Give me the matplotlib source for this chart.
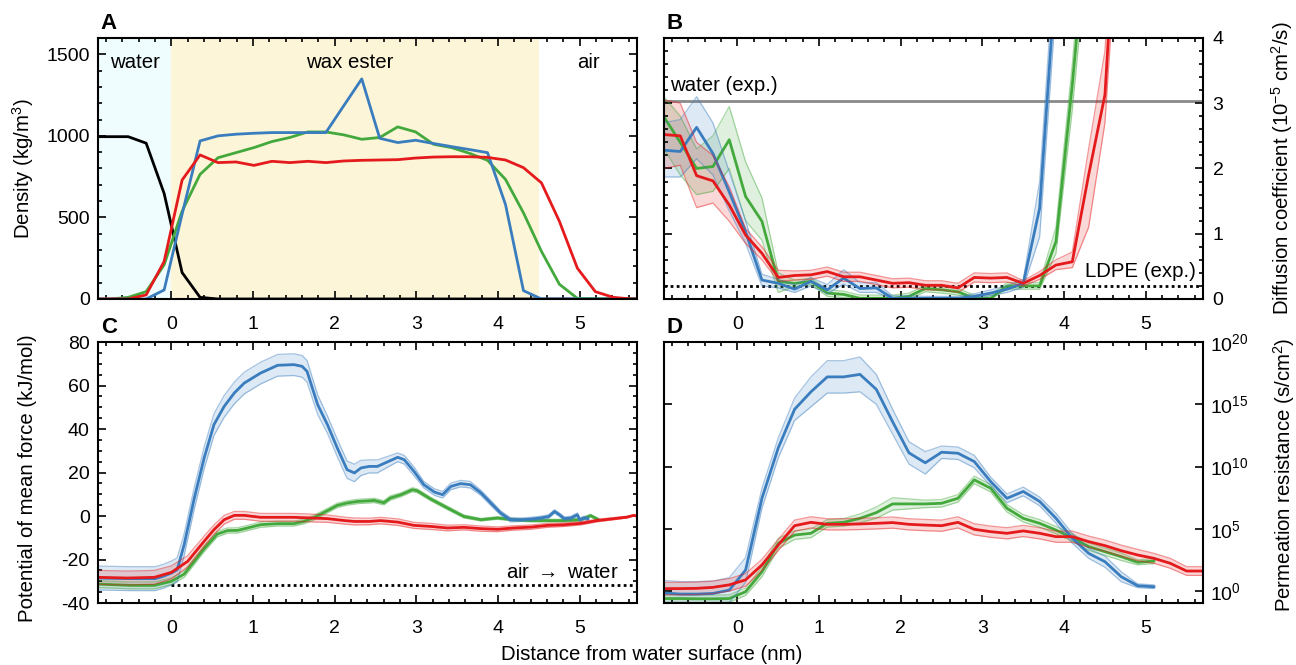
import numpy as np
import matplotlib
matplotlib.use("Agg")
import matplotlib.pyplot as plt
from matplotlib.ticker import MultipleLocator, FixedLocator, NullLocator, FuncFormatter

plt.rcParams["font.family"] = ["Liberation Sans", "DejaVu Sans"]
plt.rcParams["mathtext.fontset"] = "custom"
plt.rcParams["mathtext.rm"] = "Liberation Sans"
plt.rcParams["mathtext.it"] = "Liberation Sans:italic"
plt.rcParams["axes.unicode_minus"] = False

# ---------------------------------------------------------------- data
# panel A : density profiles (kg/m3)
xa = [-0.97, -0.75, -0.53, -0.31, -0.09, 0.13, 0.35, 0.57, 0.79, 1.01, 1.23, 1.45, 1.67, 1.89, 2.11, 2.33,
      2.55, 2.77, 2.99, 3.21, 3.43, 3.65, 3.87, 4.09, 4.31, 4.53, 4.75, 4.97, 5.19, 5.41, 5.63, 5.85]
dens_water = [995, 995, 995, 955, 647, 162, 10, 0, 0, 0, 0, 0, 0, 0, 0, 0,
              0, 0, 0, 0, 0, 0, 0, 0, 0, 0, 0, 0, 0, 0, 0, 0]
dens_red = [0, 0, 0, 25, 230, 729, 883, 836, 840, 819, 844, 836, 844, 836, 846, 850,
            852, 854, 864, 870, 872, 872, 868, 852, 805, 712, 476, 189, 45, 10, 0, 0]
dens_blue = [0, 0, 0, 0, 55, 520, 969, 1000, 1010, 1016, 1020, 1020, 1020, 1020, 1185, 1349,
             985, 959, 973, 953, 934, 916, 897, 579, 51, 0, 0, 0, 0, 0, 0, 0]
dens_green = [0, 0, 10, 45, 209, 538, 764, 866, 897, 928, 965, 990, 1024, 1024, 1006, 979,
              990, 1055, 1024, 948, 928, 893, 850, 733, 528, 292, 90, 4, 0, 0, 0, 0]

# panel B : diffusion coefficient (1e-5 cm2/s), grid of 0.2 nm
xg = [-0.9, -0.7, -0.5, -0.3, -0.1, 0.1, 0.3, 0.5, 0.7, 0.9, 1.1, 1.3, 1.5, 1.7, 1.9, 2.1, 2.3,
      2.5, 2.7, 2.9, 3.1, 3.3, 3.5, 3.7, 3.9, 4.1, 4.3, 4.5, 4.7, 4.9, 5.1, 5.3, 5.5, 5.7]
diff_red = [2.52, 2.50, 1.89, 1.81, 1.44, 0.98, 0.70, 0.33, 0.36, 0.37, 0.42, 0.34, 0.34, 0.29, 0.24,
            0.25, 0.21, 0.21, 0.17, 0.33, 0.32, 0.33, 0.24, 0.36, 0.52, 0.57, 1.90, 3.13, 7.3]
diff_red_lo = [2.00, 2.05, 1.40, 1.47, 1.19, 0.85, 0.60, 0.27, 0.29, 0.30, 0.35, 0.27, 0.27, 0.22, 0.17,
               0.18, 0.14, 0.14, 0.10, 0.26, 0.25, 0.26, 0.20, 0.30, 0.45, 0.48, 1.10, 2.70, 6.5]
diff_red_hi = [3.05, 3.00, 2.40, 2.20, 1.72, 1.08, 0.80, 0.44, 0.43, 0.44, 0.49, 0.41, 0.41, 0.36, 0.31,
               0.32, 0.28, 0.28, 0.24, 0.40, 0.39, 0.40, 0.28, 0.42, 0.60, 0.72, 2.30, 3.80, 8.0]
diff_blue = [2.28, 2.26, 2.63, 2.23, 1.64, 1.03, 0.29, 0.24, 0.15, 0.27, 0.14, 0.32, 0.16, 0.17, 0.01,
             0.01, 0.01, 0.01, 0.01, 0.04, 0.09, 0.15, 0.24, 1.39, 5.0]
diff_blue_lo = [1.87, 1.87, 2.15, 1.90, 1.35, 0.85, 0.20, 0.17, 0.10, 0.20, 0.08, 0.23, 0.10, 0.10, 0.0,
                0.0, 0.0, 0.0, 0.0, 0.01, 0.05, 0.10, 0.18, 0.95, 4.5]
diff_blue_hi = [2.70, 2.75, 3.10, 2.70, 1.95, 1.20, 0.38, 0.30, 0.22, 0.33, 0.22, 0.45, 0.25, 0.25, 0.05,
                0.05, 0.04, 0.04, 0.04, 0.08, 0.14, 0.20, 0.30, 1.80, 5.5]
diff_green = [2.79, 2.40, 2.00, 2.03, 2.44, 1.57, 1.19, 0.27, 0.24, 0.27, 0.09, 0.07, 0.01, 0.01, 0.01,
              0.04, 0.16, 0.14, 0.11, 0.01, 0.01, 0.20, 0.20, 0.20, 0.88, 3.28, 6.0]
diff_green_lo = [2.30, 1.90, 1.60, 1.65, 2.00, 1.20, 0.90, 0.10, 0.19, 0.22, 0.04, 0.02, 0.0, 0.0, 0.0,
                 0.0, 0.11, 0.09, 0.06, 0.0, 0.0, 0.15, 0.15, 0.15, 0.70, 2.90, 5.5]
diff_green_hi = [3.10, 2.80, 2.30, 2.50, 2.95, 2.10, 1.55, 0.40, 0.29, 0.32, 0.14, 0.12, 0.06, 0.06, 0.06,
                 0.09, 0.21, 0.19, 0.16, 0.06, 0.06, 0.25, 0.25, 0.25, 1.10, 3.60, 6.5]
d_water_exp = 3.03
d_ldpe_exp = 0.2

# panel C : potential of mean force (kJ/mol)
pmf_blue_x = [-0.9, -0.5, -0.2, -0.1, 0.0, 0.07, 0.155, 0.28, 0.40, 0.52, 0.645, 0.77, 0.89, 1.09, 1.30,
              1.50, 1.60, 1.66, 1.79, 1.91, 2.03, 2.15, 2.24, 2.32, 2.42, 2.52, 2.64, 2.77, 2.85, 2.97,
              3.09, 3.22, 3.32, 3.42, 3.54, 3.66, 3.79, 3.91, 4.03, 4.15, 4.28, 4.40, 4.52, 4.62, 4.69,
              4.75, 4.81, 4.89, 4.97, 5.00, 5.05, 5.10]
pmf_blue = [-28.5, -28.8, -28.8, -27.7, -26.2, -24.7, -13.2, 8.3, 26.7, 42.0, 50.4, 56.6, 61.1, 65.7, 69.3,
            69.6, 68.8, 66.5, 51.2, 42.0, 31.3, 21.3, 19.8, 22.1, 22.8, 22.8, 24.8, 27.0, 25.9, 20.5,
            14.4, 11.0, 9.8, 13.6, 14.9, 14.4, 10.6, 6.0, 1.4, -1.7, -1.7, -1.4, -0.9, -0.2, 2.1,
            0.6, -1.2, -0.9, 0.6, -1.7, -0.9, -1.2]
pmf_blue_err = [5.5, 5.5, 5.5, 5.5, 5.5, 5.5, 5.0, 5.0, 5.0, 5.0, 5.0, 5.0, 5.0, 5.0, 5.0,
                5.0, 5.0, 5.0, 4.5, 4.0, 4.0, 4.0, 4.0, 3.5, 3.0, 3.0, 2.5, 2.0, 2.0, 2.0,
                1.5, 1.5, 1.5, 1.5, 1.5, 1.5, 1.2, 1.2, 1.0, 1.0, 0.8, 0.8, 0.8, 0.8, 0.8,
                0.8, 0.8, 0.8, 0.8, 0.8, 0.8, 0.8]
pmf_red_x = [-0.9, -0.54, -0.21, 0.0, 0.2, 0.4, 0.52, 0.645, 0.77, 0.89, 1.09, 1.30, 1.50, 1.71, 1.91,
             2.12, 2.24, 2.42, 2.56, 2.77, 2.97, 3.18, 3.38, 3.58, 3.79, 3.99, 4.19, 4.40, 4.60, 4.81,
             5.01, 5.21, 5.42, 5.58, 5.66, 5.70]
pmf_red = [-28.2, -28.5, -28.2, -25.9, -20.8, -11.6, -6.3, -1.7, 0.3, 0.3, -0.6, -0.6, -0.6, -0.9, -1.2,
           -2.1, -2.5, -2.5, -2.1, -2.8, -4.3, -4.8, -5.5, -5.2, -5.8, -6.1, -5.5, -5.1, -4.3, -4.0,
           -3.4, -2.1, -1.2, -0.5, 0.3, 0.0]
pmf_red_err = [3.2, 3.2, 3.2, 3.0, 2.6, 2.4, 2.2, 2.0, 1.8, 1.8, 1.8, 1.8, 1.8, 1.8, 1.7,
               1.6, 1.6, 1.5, 1.5, 1.5, 1.4, 1.4, 1.3, 1.2, 1.2, 1.1, 1.0, 1.0, 0.9, 0.8,
               0.7, 0.6, 0.5, 0.4, 0.2, 0.0]
pmf_green_x = [-0.9, -0.5, -0.21, 0.0, 0.155, 0.28, 0.40, 0.56, 0.685, 0.81, 0.93, 1.09, 1.30, 1.50, 1.62,
               1.75, 1.91, 2.03, 2.15, 2.28, 2.42, 2.48, 2.60, 2.68, 2.81, 2.95, 3.01, 3.17, 3.38, 3.58,
               3.79, 3.99, 4.19, 4.40, 4.60, 4.81, 5.01, 5.13, 5.23]
pmf_green = [-31.3, -31.9, -31.9, -30.0, -26.7, -20.8, -15.0, -8.3, -6.7, -6.6, -5.5, -4.0, -3.5, -3.5, -2.5,
             -0.6, 2.5, 4.9, 6.0, 6.7, 7.0, 7.2, 6.1, 8.3, 9.8, 12.1, 11.6, 7.9, 3.7, -0.2,
             -1.7, -0.9, -1.7, -2.1, -2.1, -2.1, -1.7, 0.2, -1.7]
pmf_green_err = [1.6, 1.6, 1.6, 1.5, 1.5, 1.4, 1.4, 1.3, 1.2, 1.2, 1.2, 1.2, 1.1, 1.1, 1.1,
                 1.1, 1.0, 1.0, 1.0, 1.0, 1.0, 1.0, 1.0, 1.0, 0.9, 0.9, 0.9, 0.8, 0.8, 0.7,
                 0.6, 0.6, 0.6, 0.6, 0.6, 0.6, 0.6, 0.6, 0.6]
pmf_air_water = -31.5

# panel D : permeation resistance, log10(s/cm2), grid of 0.2 nm
res_red = [0.2, 0.2, 0.22, 0.3, 0.5, 0.9, 2.1, 3.7, 5.25, 5.52, 5.36, 5.36, 5.39, 5.44, 5.5, 5.36, 5.3,
           5.25, 5.52, 4.96, 4.77, 4.64, 4.83, 4.64, 4.37, 4.37, 3.97, 3.65, 3.24, 2.9, 2.63, 2.23, 1.61, 1.61]
res_red_err = [0.5, 0.5, 0.5, 0.5, 0.5, 0.5, 0.45, 0.45, 0.45, 0.45, 0.45, 0.45, 0.45, 0.45, 0.45, 0.45, 0.45,
               0.45, 0.45, 0.45, 0.45, 0.45, 0.45, 0.45, 0.45, 0.45, 0.45, 0.45, 0.45, 0.45, 0.4, 0.4, 0.35, 0.35]
res_blue = [-0.15, -0.24, -0.24, -0.19, 0.08, 1.69, 7.45, 11.5, 14.6, 16.0, 17.2, 17.2, 17.4, 16.2, 13.6,
            11.1, 10.3, 11.15, 11.07, 10.4, 8.8, 7.45, 8.0, 7.2, 5.85, 4.24, 3.03, 2.36, 1.15, 0.43, 0.35]
res_blue_err = [1.0, 1.0, 1.0, 1.0, 1.0, 1.0, 0.8, 0.8, 0.9, 1.2, 1.3, 1.3, 1.4, 1.2, 1.0,
                0.9, 0.9, 0.5, 0.5, 0.5, 0.35, 0.35, 0.35, 0.35, 0.4, 0.4, 0.4, 0.45, 0.4, 0.15, 0.15]
res_green = [-0.6, -0.6, -0.62, -0.62, -0.6, -0.05, 1.55, 3.83, 4.5, 4.64, 5.44, 5.52, 5.84, 6.3, 7.0,
             7.0, 7.0, 7.05, 7.45, 8.93, 8.26, 6.65, 5.84, 5.44, 4.9, 4.29, 3.57, 3.16, 2.76, 2.31, 2.41]
res_green_err = [0.3, 0.3, 0.3, 0.3, 0.3, 0.3, 0.4, 0.4, 0.35, 0.35, 0.3, 0.3, 0.35, 0.45, 0.5,
                 0.4, 0.3, 0.3, 0.3, 0.3, 0.3, 0.3, 0.3, 0.3, 0.3, 0.3, 0.3, 0.3, 0.3, 0.2, 0.2]

# ---------------------------------------------------------------- styling
RED, BLUE, GREEN = "#e41a1c", "#3a7dbf", "#43a93c"
FS = 14
FSL = 14.7
XLIM = (-0.9, 5.7)


def band(ax, x, lo, hi, col):
    ax.fill_between(x, lo, hi, color=col, alpha=0.17, lw=0)
    ax.plot(x, lo, color=col, lw=0.9, alpha=0.45)
    ax.plot(x, hi, color=col, lw=0.9, alpha=0.45)


def style(ax, right_labels=False):
    ax.set_xlim(XLIM)
    ax.xaxis.set_major_locator(FixedLocator([0, 1, 2, 3, 4, 5]))
    ax.xaxis.set_minor_locator(MultipleLocator(0.2))
    ax.tick_params(which="both", direction="in", top=True, bottom=True, left=True, right=True,
                   width=1.2, labelsize=FS)
    ax.tick_params(which="major", length=6)
    ax.tick_params(which="minor", length=3)
    ax.tick_params(axis="x", pad=12)
    if right_labels:
        ax.tick_params(axis="y", labelleft=False, labelright=True, pad=7)
    else:
        ax.tick_params(axis="y", pad=6)
    for s in ax.spines.values():
        s.set_linewidth(1.5)


fig = plt.figure(figsize=(12.96, 6.65), dpi=100)
axA = fig.add_axes([0.0756, 0.5504, 0.4159, 0.3925])
axB = fig.add_axes([0.5123, 0.5504, 0.4159, 0.3925])
axC = fig.add_axes([0.0756, 0.0932, 0.4159, 0.3925])
axD = fig.add_axes([0.5123, 0.0932, 0.4159, 0.3925])

# ---- A
axA.axvspan(XLIM[0], 0, color="#effdfe", lw=0, zorder=0)
axA.axvspan(0, 4.5, color="#fdf5d8", lw=0, zorder=0)
axA.plot(xa, dens_water, color="black", lw=2)
axA.plot(xa, dens_green, color=GREEN, lw=2)
axA.plot(xa, dens_blue, color=BLUE, lw=2)
axA.plot(xa, dens_red, color=RED, lw=2)
axA.set_ylim(0, 1600)
axA.yaxis.set_major_locator(FixedLocator([0, 500, 1000, 1500]))
axA.yaxis.set_minor_locator(MultipleLocator(100))
style(axA)
axA.text(-0.45, 1450, "water", ha="center", va="center", fontsize=FSL)
axA.text(2.18, 1450, "wax ester", ha="center", va="center", fontsize=FSL)
axA.text(5.1, 1450, "air", ha="center", va="center", fontsize=FSL)
axA.set_ylabel("Density (kg/m$^3$)", fontsize=FSL)
axA.yaxis.set_label_coords(-0.115, 0.5)

# ---- B
axB.axhline(d_water_exp, color="#8a8a8a", lw=2, zorder=1)
axB.axhline(d_ldpe_exp, color="black", lw=2, ls=(0, (1, 1.2)), zorder=1)
for x0, y, lo, hi, col in [(xg[:len(diff_green)], diff_green, diff_green_lo, diff_green_hi, GREEN),
                           (xg[:len(diff_blue)], diff_blue, diff_blue_lo, diff_blue_hi, BLUE),
                           (xg[:len(diff_red)], diff_red, diff_red_lo, diff_red_hi, RED)]:
    band(axB, x0, lo, hi, col)
    axB.plot(x0, y, color=col, lw=2)
axB.set_ylim(0, 4)
axB.yaxis.set_major_locator(MultipleLocator(1))
axB.yaxis.set_minor_locator(MultipleLocator(0.2))
style(axB, right_labels=True)
axB.text(-0.82, 3.12, "water (exp.)", ha="left", va="bottom", fontsize=FSL)
axB.text(5.61, 0.27, "LDPE (exp.)", ha="right", va="bottom", fontsize=FSL)
axB.yaxis.set_label_position("right")
axB.set_ylabel("Diffusion coefficient (10$^{-5}$ cm$^2$/s)", fontsize=FSL, rotation=90)
axB.yaxis.set_label_coords(1.122, 0.5)

# ---- C
axC.plot([0, XLIM[1]], [pmf_air_water, pmf_air_water], color="black", lw=2, ls=(0, (1, 1.2)))
for x0, y, e, col in [(pmf_green_x, pmf_green, pmf_green_err, GREEN),
                      (pmf_blue_x, pmf_blue, pmf_blue_err, BLUE),
                      (pmf_red_x, pmf_red, pmf_red_err, RED)]:
    y = np.array(y)
    e = np.array(e)
    band(axC, x0, y - e, y + e, col)
    axC.plot(x0, y, color=col, lw=2)
axC.set_ylim(-40, 80)
axC.yaxis.set_major_locator(MultipleLocator(20))
axC.yaxis.set_minor_locator(MultipleLocator(5))
style(axC)
axC.text(5.48, -26, "air $\\rightarrow$ water", ha="right", va="center", fontsize=FSL)
axC.set_ylabel("Potential of mean force (kJ/mol)", fontsize=FSL)
axC.yaxis.set_label_coords(-0.113, 0.48)

# ---- D
axD.set_yscale("log")
for y, e, col in [(res_green, res_green_err, GREEN),
                  (res_blue, res_blue_err, BLUE),
                  (res_red, res_red_err, RED)]:
    y = np.array(y)
    e = np.array(e)
    x0 = xg[:len(y)]
    band(axD, x0, 10 ** (y - e), 10 ** (y + e), col)
    axD.plot(x0, 10 ** y, color=col, lw=2)
axD.set_ylim(0.11, 1e20)
axD.yaxis.set_major_locator(FixedLocator([1e0, 1e5, 1e10, 1e15, 1e20]))
axD.yaxis.set_minor_locator(NullLocator())
axD.yaxis.set_major_formatter(FuncFormatter(lambda v, p: "10$^{%d}$" % round(np.log10(v))))
style(axD, right_labels=True)
axD.tick_params(axis="y", pad=5)
axD.yaxis.set_label_position("right")
axD.set_ylabel("Permeation resistance (s/cm$^2$)", fontsize=FSL, rotation=90)
axD.yaxis.set_label_coords(1.126, 0.49)

# panel letters
for ax, lab in [(axA, "A"), (axB, "B"), (axC, "C"), (axD, "D")]:
    ax.text(0.005, 1.015, lab, transform=ax.transAxes, ha="left", va="bottom",
            fontsize=16, fontweight="bold")

fig.text(0.503, 1 - 655 / 665, "Distance from water surface (nm)", ha="center", va="center", fontsize=FSL)

fig.savefig("out.png", dpi=100)
